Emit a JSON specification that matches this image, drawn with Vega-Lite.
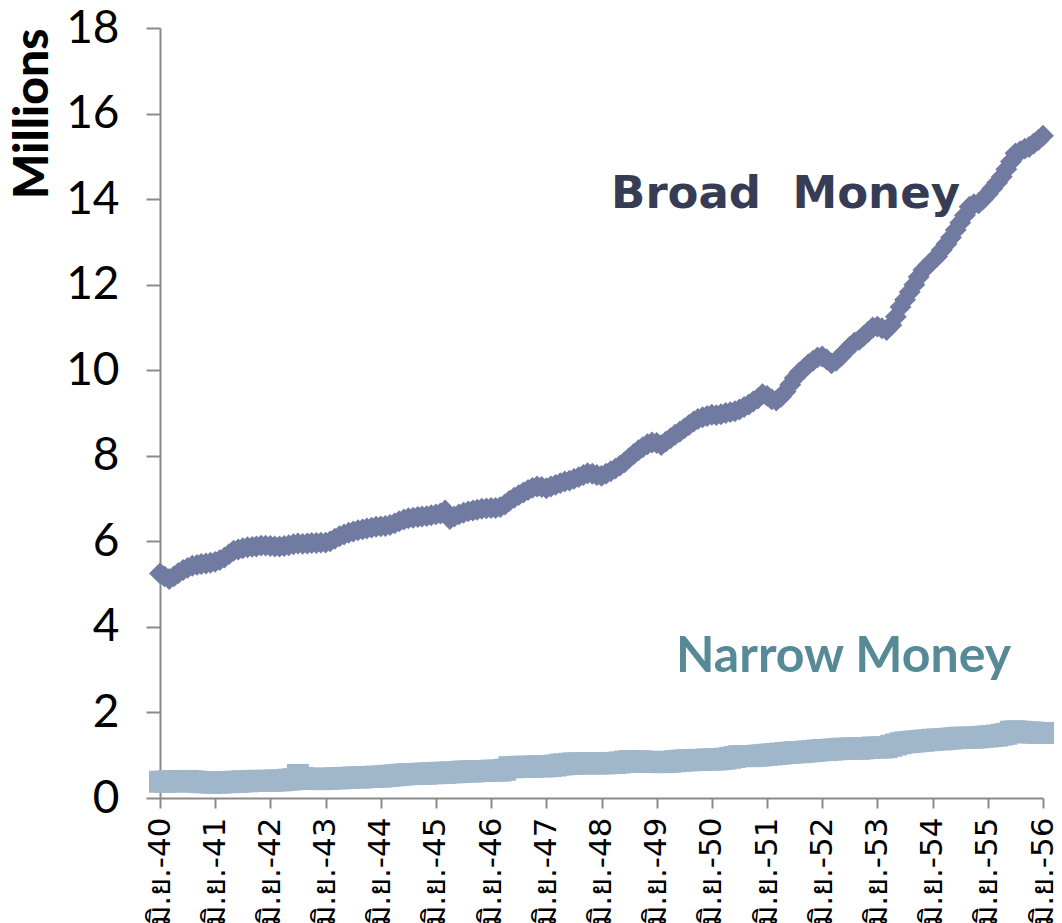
{
  "$schema": "https://vega.github.io/schema/vega-lite/v6.json",
  "width": 883,
  "height": 770,
  "autosize": {"type": "none"},
  "padding": {"left": 160, "top": 28, "right": 19, "bottom": 125},
  "background": "white",
  "config": {
    "view": {"stroke": null},
    "axis": {"domainColor": "#8a8a8a", "domainWidth": 2, "tickColor": "#8a8a8a", "tickWidth": 2, "grid": false, "labelColor": "#000000", "titleColor": "#000000"},
    "axisY": {"labelFont": "Lato", "labelFontSize": 46, "tickSize": 14, "labelPadding": 27, "titleFont": "Lato", "titleFontSize": 48, "titleFontWeight": 900, "titleAnchor": "end", "titlePadding": 8},
    "axisX": {"labelFontSize": 31, "labelFont": "DejaVu Sans", "tickSize": 10, "labelPadding": 9, "labelAngle": 270}
  },
  "data": {"values": [
    {"d":"1997-06","b":5.25,"n":0.38},{"d":"1997-07","b":5.18,"n":0.38},{"d":"1997-08","b":5.12,"n":0.39},{"d":"1997-09","b":5.18,"n":0.39},{"d":"1997-10","b":5.26,"n":0.39},{"d":"1997-11","b":5.33,"n":0.39},{"d":"1997-12","b":5.38,"n":0.40},
    {"d":"1998-01","b":5.43,"n":0.39},{"d":"1998-02","b":5.45,"n":0.38},{"d":"1998-03","b":5.47,"n":0.37},{"d":"1998-04","b":5.48,"n":0.37},{"d":"1998-05","b":5.50,"n":0.36},{"d":"1998-06","b":5.52,"n":0.36},{"d":"1998-07","b":5.56,"n":0.36},{"d":"1998-08","b":5.62,"n":0.37},{"d":"1998-09","b":5.70,"n":0.37},{"d":"1998-10","b":5.78,"n":0.38},{"d":"1998-11","b":5.81,"n":0.38},{"d":"1998-12","b":5.84,"n":0.39},
    {"d":"1999-01","b":5.86,"n":0.39},{"d":"1999-02","b":5.87,"n":0.40},{"d":"1999-03","b":5.88,"n":0.40},{"d":"1999-04","b":5.90,"n":0.40},{"d":"1999-05","b":5.90,"n":0.40},{"d":"1999-06","b":5.89,"n":0.40},{"d":"1999-07","b":5.88,"n":0.41},{"d":"1999-08","b":5.88,"n":0.41},{"d":"1999-09","b":5.89,"n":0.42},{"d":"1999-10","b":5.91,"n":0.43},{"d":"1999-11","b":5.93,"n":0.44},{"d":"1999-12","b":5.95,"n":0.54},
    {"d":"2000-01","b":5.94,"n":0.47},{"d":"2000-02","b":5.95,"n":0.45},{"d":"2000-03","b":5.96,"n":0.45},{"d":"2000-04","b":5.96,"n":0.45},{"d":"2000-05","b":5.97,"n":0.44},{"d":"2000-06","b":5.97,"n":0.45},{"d":"2000-07","b":6.00,"n":0.45},{"d":"2000-08","b":6.06,"n":0.46},{"d":"2000-09","b":6.12,"n":0.46},{"d":"2000-10","b":6.16,"n":0.47},{"d":"2000-11","b":6.20,"n":0.47},{"d":"2000-12","b":6.23,"n":0.48},
    {"d":"2001-01","b":6.26,"n":0.48},{"d":"2001-02","b":6.28,"n":0.48},{"d":"2001-03","b":6.30,"n":0.49},{"d":"2001-04","b":6.32,"n":0.49},{"d":"2001-05","b":6.34,"n":0.50},{"d":"2001-06","b":6.35,"n":0.50},{"d":"2001-07","b":6.36,"n":0.51},{"d":"2001-08","b":6.38,"n":0.52},{"d":"2001-09","b":6.42,"n":0.53},{"d":"2001-10","b":6.47,"n":0.54},{"d":"2001-11","b":6.51,"n":0.55},{"d":"2001-12","b":6.54,"n":0.56},
    {"d":"2002-01","b":6.55,"n":0.56},{"d":"2002-02","b":6.57,"n":0.56},{"d":"2002-03","b":6.58,"n":0.57},{"d":"2002-04","b":6.59,"n":0.57},{"d":"2002-05","b":6.61,"n":0.58},{"d":"2002-06","b":6.63,"n":0.58},{"d":"2002-07","b":6.65,"n":0.59},{"d":"2002-08","b":6.72,"n":0.59},{"d":"2002-09","b":6.52,"n":0.60},{"d":"2002-10","b":6.58,"n":0.60},{"d":"2002-11","b":6.63,"n":0.61},{"d":"2002-12","b":6.67,"n":0.62},
    {"d":"2003-01","b":6.70,"n":0.62},{"d":"2003-02","b":6.72,"n":0.62},{"d":"2003-03","b":6.74,"n":0.63},{"d":"2003-04","b":6.76,"n":0.63},{"d":"2003-05","b":6.77,"n":0.63},{"d":"2003-06","b":6.78,"n":0.64},{"d":"2003-07","b":6.78,"n":0.64},{"d":"2003-08","b":6.80,"n":0.64},{"d":"2003-09","b":6.86,"n":0.66},{"d":"2003-10","b":6.95,"n":0.72},{"d":"2003-11","b":7.02,"n":0.72},{"d":"2003-12","b":7.08,"n":0.73},
    {"d":"2004-01","b":7.14,"n":0.73},{"d":"2004-02","b":7.20,"n":0.73},{"d":"2004-03","b":7.25,"n":0.73},{"d":"2004-04","b":7.28,"n":0.74},{"d":"2004-05","b":7.27,"n":0.74},{"d":"2004-06","b":7.24,"n":0.74},{"d":"2004-07","b":7.28,"n":0.75},{"d":"2004-08","b":7.32,"n":0.76},{"d":"2004-09","b":7.36,"n":0.78},{"d":"2004-10","b":7.40,"n":0.79},{"d":"2004-11","b":7.42,"n":0.80},{"d":"2004-12","b":7.46,"n":0.81},
    {"d":"2005-01","b":7.50,"n":0.81},{"d":"2005-02","b":7.55,"n":0.81},{"d":"2005-03","b":7.59,"n":0.81},{"d":"2005-04","b":7.58,"n":0.81},{"d":"2005-05","b":7.55,"n":0.81},{"d":"2005-06","b":7.53,"n":0.81},{"d":"2005-07","b":7.58,"n":0.81},{"d":"2005-08","b":7.64,"n":0.82},{"d":"2005-09","b":7.70,"n":0.82},{"d":"2005-10","b":7.77,"n":0.83},{"d":"2005-11","b":7.85,"n":0.85},{"d":"2005-12","b":7.95,"n":0.86},
    {"d":"2006-01","b":8.04,"n":0.86},{"d":"2006-02","b":8.13,"n":0.86},{"d":"2006-03","b":8.20,"n":0.85},{"d":"2006-04","b":8.27,"n":0.85},{"d":"2006-05","b":8.31,"n":0.84},{"d":"2006-06","b":8.30,"n":0.84},{"d":"2006-07","b":8.25,"n":0.84},{"d":"2006-08","b":8.33,"n":0.84},{"d":"2006-09","b":8.41,"n":0.85},{"d":"2006-10","b":8.49,"n":0.86},{"d":"2006-11","b":8.56,"n":0.87},{"d":"2006-12","b":8.64,"n":0.88},
    {"d":"2007-01","b":8.72,"n":0.88},{"d":"2007-02","b":8.80,"n":0.89},{"d":"2007-03","b":8.86,"n":0.89},{"d":"2007-04","b":8.90,"n":0.89},{"d":"2007-05","b":8.93,"n":0.90},{"d":"2007-06","b":8.96,"n":0.90},{"d":"2007-07","b":8.95,"n":0.90},{"d":"2007-08","b":8.97,"n":0.91},{"d":"2007-09","b":9.00,"n":0.92},{"d":"2007-10","b":9.02,"n":0.94},{"d":"2007-11","b":9.04,"n":0.96},{"d":"2007-12","b":9.08,"n":0.98},
    {"d":"2008-01","b":9.14,"n":0.98},{"d":"2008-02","b":9.20,"n":0.98},{"d":"2008-03","b":9.27,"n":0.98},{"d":"2008-04","b":9.34,"n":0.99},{"d":"2008-05","b":9.44,"n":1.00},{"d":"2008-06","b":9.40,"n":1.01},{"d":"2008-07","b":9.32,"n":1.02},{"d":"2008-08","b":9.29,"n":1.03},{"d":"2008-09","b":9.38,"n":1.04},{"d":"2008-10","b":9.50,"n":1.05},{"d":"2008-11","b":9.66,"n":1.06},{"d":"2008-12","b":9.82,"n":1.07},
    {"d":"2009-01","b":9.95,"n":1.07},{"d":"2009-02","b":10.04,"n":1.08},{"d":"2009-03","b":10.14,"n":1.09},{"d":"2009-04","b":10.22,"n":1.10},{"d":"2009-05","b":10.30,"n":1.11},{"d":"2009-06","b":10.32,"n":1.12},{"d":"2009-07","b":10.25,"n":1.12},{"d":"2009-08","b":10.16,"n":1.13},{"d":"2009-09","b":10.22,"n":1.14},{"d":"2009-10","b":10.32,"n":1.15},{"d":"2009-11","b":10.44,"n":1.15},{"d":"2009-12","b":10.55,"n":1.16},
    {"d":"2010-01","b":10.65,"n":1.16},{"d":"2010-02","b":10.71,"n":1.15},{"d":"2010-03","b":10.80,"n":1.16},{"d":"2010-04","b":10.90,"n":1.17},{"d":"2010-05","b":11.00,"n":1.18},{"d":"2010-06","b":11.02,"n":1.18},{"d":"2010-07","b":10.98,"n":1.18},{"d":"2010-08","b":10.94,"n":1.19},{"d":"2010-09","b":11.05,"n":1.22},{"d":"2010-10","b":11.25,"n":1.25},{"d":"2010-11","b":11.48,"n":1.28},{"d":"2010-12","b":11.65,"n":1.30},
    {"d":"2011-01","b":11.83,"n":1.31},{"d":"2011-02","b":12.00,"n":1.32},{"d":"2011-03","b":12.18,"n":1.33},{"d":"2011-04","b":12.34,"n":1.34},{"d":"2011-05","b":12.45,"n":1.35},{"d":"2011-06","b":12.56,"n":1.36},{"d":"2011-07","b":12.66,"n":1.37},{"d":"2011-08","b":12.81,"n":1.37},{"d":"2011-09","b":12.95,"n":1.38},{"d":"2011-10","b":13.10,"n":1.39},{"d":"2011-11","b":13.28,"n":1.40},{"d":"2011-12","b":13.45,"n":1.41},
    {"d":"2012-01","b":13.62,"n":1.41},{"d":"2012-02","b":13.82,"n":1.41},{"d":"2012-03","b":13.88,"n":1.41},{"d":"2012-04","b":13.90,"n":1.42},{"d":"2012-05","b":14.00,"n":1.43},{"d":"2012-06","b":14.12,"n":1.44},{"d":"2012-07","b":14.25,"n":1.45},{"d":"2012-08","b":14.38,"n":1.46},{"d":"2012-09","b":14.52,"n":1.48},{"d":"2012-10","b":14.70,"n":1.50},{"d":"2012-11","b":14.88,"n":1.55},{"d":"2012-12","b":15.07,"n":1.56},
    {"d":"2013-01","b":15.12,"n":1.55},{"d":"2013-02","b":15.18,"n":1.54},{"d":"2013-03","b":15.22,"n":1.53},{"d":"2013-04","b":15.30,"n":1.53},{"d":"2013-05","b":15.38,"n":1.52},{"d":"2013-06","b":15.48,"n":1.52}
  ]},
  "layer": [
    {
      "mark": {"type": "point", "shape": "square", "filled": true, "size": 484, "color": "#a0b6cb", "opacity": 1},
      "encoding": {
        "x": {"field": "d", "type": "temporal", "title": null,
          "scale": {"type": "utc", "domain": [{"year": 1997, "month": 6, "date": 1, "utc": true}, {"year": 2013, "month": 6, "date": 1, "utc": true}]},
          "axis": {"values": [
            {"year": 1997, "month": 6, "date": 1, "utc": true},{"year": 1998, "month": 6, "date": 1, "utc": true},{"year": 1999, "month": 6, "date": 1, "utc": true},{"year": 2000, "month": 6, "date": 1, "utc": true},
            {"year": 2001, "month": 6, "date": 1, "utc": true},{"year": 2002, "month": 6, "date": 1, "utc": true},{"year": 2003, "month": 6, "date": 1, "utc": true},{"year": 2004, "month": 6, "date": 1, "utc": true},
            {"year": 2005, "month": 6, "date": 1, "utc": true},{"year": 2006, "month": 6, "date": 1, "utc": true},{"year": 2007, "month": 6, "date": 1, "utc": true},{"year": 2008, "month": 6, "date": 1, "utc": true},
            {"year": 2009, "month": 6, "date": 1, "utc": true},{"year": 2010, "month": 6, "date": 1, "utc": true},{"year": 2011, "month": 6, "date": 1, "utc": true},{"year": 2012, "month": 6, "date": 1, "utc": true},
            {"year": 2013, "month": 6, "date": 1, "utc": true}],
            "labelExpr": "'มิ.ย.-' + ((utcyear(datum.value) + 543) % 100)"}},
        "y": {"field": "n", "type": "quantitative", "title": "Millions",
          "scale": {"domain": [0, 18]},
          "axis": {"values": [0, 2, 4, 6, 8, 10, 12, 14, 16, 18]}}
      }
    },
    {
      "mark": {"type": "point", "shape": "diamond", "filled": true, "size": 480, "color": "#717ba1", "opacity": 1},
      "encoding": {
        "x": {"field": "d", "type": "temporal", "title": null},
        "y": {"field": "b", "type": "quantitative", "title": "Millions"}
      }
    },
    {
      "data": {"values": [{"d": "2008-10-01", "v": 13.8, "t": "Broad\u00a0 Money"}]},
      "mark": {"type": "text", "font": "DejaVu Sans", "fontWeight": "bold", "fontSize": 45, "color": "#373c55", "align": "center", "baseline": "alphabetic"},
      "encoding": {
        "x": {"field": "d", "type": "temporal", "title": null},
        "y": {"field": "v", "type": "quantitative", "title": "Millions"},
        "text": {"field": "t"}
      }
    },
    {
      "data": {"values": [{"d": "2009-10-20", "v": 2.95, "t": "Narrow Money"}]},
      "mark": {"type": "text", "font": "Lato", "fontWeight": "bold", "fontSize": 50, "color": "#568a97", "align": "center", "baseline": "alphabetic"},
      "encoding": {
        "x": {"field": "d", "type": "temporal", "title": null},
        "y": {"field": "v", "type": "quantitative", "title": "Millions"},
        "text": {"field": "t"}
      }
    }
  ]
}
